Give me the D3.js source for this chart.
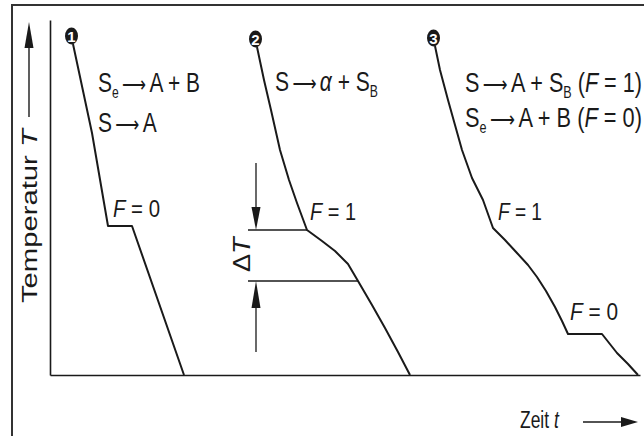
<!DOCTYPE html>
<html>
<head>
<meta charset="utf-8">
<script src="https://cdn.jsdelivr.net/npm/d3@7"></script>
<style>
  html, body { margin: 0; padding: 0; background: #fff; }
  svg { display: block; }
  text { font-family: "Liberation Sans", Arial, sans-serif; fill: #1a1a1a; }
</style>
</head>
<body>
<svg id="chart" width="644" height="436"></svg>
<script>
// Cooling curves (time t, temperature T) in arbitrary units
const curve1 = [[23,331],[42,242],[58,149],[82,149],[134,0]];
const curve2 = [[207,328],[214,295],[221,265],[230,225],[239,195],[247,172],[257,145],
                [272,134],[285,124],[298,111],[308,94],
                [322,70],[335,47],[348,23],[360,0]];
const curve3 = [[385,329],[390,305],[398,275],[405,250],[412,225],[422,197],[433,175],[443,147],
                [455,135],[467,122],[478,110],[487,98],[496,84],[505,68],[512,54],[518,41],
                [552,41],[567,22],[578,11],[588,0]];
const curveIds = ["1", "2", "3"];
// Solidification interval on curve 2
const deltaT = { upper: 145, lower: 94, t: 206, tStart: 198 };
const axisLabels = { y: "Temperatur", yVar: "T", x: "Zeit", xVar: "t" };

const svg = d3.select("#chart");
const x = d3.scaleLinear().domain([0, 590]).range([50, 640]);
const y = d3.scaleLinear().domain([0, 355]).range([375, 20]);
const ink = "#1a1a1a";

// frame (top and left edges)
svg.append("path").attr("d", "M12,436 V5 H644")
  .attr("fill", "none").attr("stroke", "#333").attr("stroke-width", 2);

// axes
const xAxis = d3.axisBottom(x).tickValues([]).tickSizeOuter(0);
const yAxis = d3.axisLeft(y).tickValues([]).tickSizeOuter(0);
svg.append("g").attr("transform", `translate(0,${y(0)})`).call(xAxis)
  .select(".domain").attr("stroke", ink).attr("stroke-width", 1.6);
svg.append("g").attr("transform", `translate(${x(0)},0)`).call(yAxis)
  .select(".domain").attr("stroke", ink).attr("stroke-width", 1.6);

// curves
const line = d3.line().x(d => x(d[0])).y(d => y(d[1])).curve(d3.curveLinear);
[curve1, curve2, curve3].forEach(c => {
  svg.append("path").attr("d", line(c)).attr("fill", "none")
    .attr("stroke", ink).attr("stroke-width", 2).attr("stroke-linejoin", "round");
});

// numbered markers at curve starts
[curve1, curve2, curve3].forEach((c, i) => {
  const cx = x(c[0][0]) - 1.5, cy = y(c[0][1]) - 8;
  svg.append("ellipse").attr("cx", cx).attr("cy", cy).attr("rx", 6.5).attr("ry", 8.5).attr("fill", ink);
  svg.append("text").attr("x", cx).attr("y", cy + 5.5).attr("text-anchor", "middle")
    .attr("font-size", 15).attr("font-weight", "bold").style("fill", "#fff").text(curveIds[i]);
});

function arrowHead(tipX, tipY, dir, len, half) {
  let pts;
  if (dir === "up") pts = [[tipX, tipY], [tipX - half, tipY + len], [tipX + half, tipY + len]];
  else if (dir === "down") pts = [[tipX, tipY], [tipX - half, tipY - len], [tipX + half, tipY - len]];
  else pts = [[tipX, tipY], [tipX - len, tipY - half], [tipX - len, tipY + half]];
  svg.append("path").attr("d", "M" + pts.join("L") + "Z").attr("fill", ink);
}

// text runs: [string, style]; squeezed horizontally to a given width (condensed type)
function label(px, py, runs, size, width, angle) {
  const g = svg.append("g").attr("transform", `translate(${px},${py})` + (angle ? ` rotate(${angle})` : ""));
  const inner = g.append("g");
  const t = inner.append("text").attr("x", 0).attr("y", 0).attr("font-size", size);
  runs.forEach(r => {
    const s = t.append("tspan").text(r[0]);
    if (r[1] === "i") s.style("font-style", "italic");
    if (r[1] === "sub") s.attr("font-size", size * 0.58).attr("dy", 6);
    if (r[1] === "after") s.attr("dy", -6);
    if (r[1] === "arrow" || r[2] === "arrow") s.style("font-family", "DejaVu Sans").attr("font-size", size * 0.8);
  });
  const w = t.node().getBBox().width;
  inner.attr("transform", `scale(${width / w},1)`);
  return g;
}

// delta T construction on curve 2
const up = curve2.find(d => d[1] === deltaT.upper);
const lo = curve2.find(d => d[1] === deltaT.lower);
[up, lo].forEach(p => {
  svg.append("line").attr("x1", x(deltaT.tStart)).attr("x2", x(p[0]))
    .attr("y1", y(p[1])).attr("y2", y(p[1])).attr("stroke", ink).attr("stroke-width", 1.5);
});
const ax = x(deltaT.t);
svg.append("line").attr("x1", ax).attr("x2", ax).attr("y1", 163).attr("y2", y(deltaT.upper) - 20)
  .attr("stroke", ink).attr("stroke-width", 1.3);
arrowHead(ax, y(deltaT.upper), "down", 23, 4.5);
svg.append("line").attr("x1", ax).attr("x2", ax).attr("y1", y(deltaT.lower) + 20).attr("y2", 352)
  .attr("stroke", ink).attr("stroke-width", 1.3);
arrowHead(ax, y(deltaT.lower), "up", 27, 4.5);
label(250, 272, [["Δ"], ["T", "i"]], 23, 37, -90);

const ARROW = "\u2009\u27F6\u2009";
label(98, 92, [["S"], ["e", "sub"], [ARROW, "after", "arrow"], ["A + B"]], 28, 102);
label(98, 132, [["S"], [ARROW, "arrow"], ["A"]], 28, 59);
label(113, 217, [["F", "i"], [" = 0"]], 24, 47);

label(275, 91, [["S"], [ARROW, "arrow"], ["α", "i"], [" + S"], ["B", "sub"]], 28, 103);
label(310, 220, [["F", "i"], [" = 1"]], 24, 46);

label(465, 92, [["S"], [ARROW, "arrow"], ["A + S"], ["B", "sub"], [" (", "after"], ["F", "i"], [" = 1)"]], 28, 177);
label(465, 127, [["S"], ["e", "sub"], [ARROW, "after", "arrow"], ["A + B ("], ["F", "i"], [" =  0)"]], 28, 177);
label(498, 220, [["F", "i"], [" = 1"]], 24, 44);
label(570, 320, [["F", "i"], [" = 0"]], 24, 48);

// axis titles with arrows
label(37, 303, [[axisLabels.y + " "], [axisLabels.yVar, "i"]], 22, 176, -90);
svg.append("line").attr("x1", 29).attr("x2", 29).attr("y1", 117).attr("y2", 45)
  .attr("stroke", ink).attr("stroke-width", 1.4);
arrowHead(29, 22, "up", 26, 4.5);

label(520, 428, [[axisLabels.x + " "], [axisLabels.xVar, "i"]], 23, 40);
svg.append("line").attr("x1", 583).attr("x2", 624).attr("y1", 422).attr("y2", 422)
  .attr("stroke", ink).attr("stroke-width", 1.4);
arrowHead(638, 422, "right", 17, 5);
</script>
</body>
</html>
